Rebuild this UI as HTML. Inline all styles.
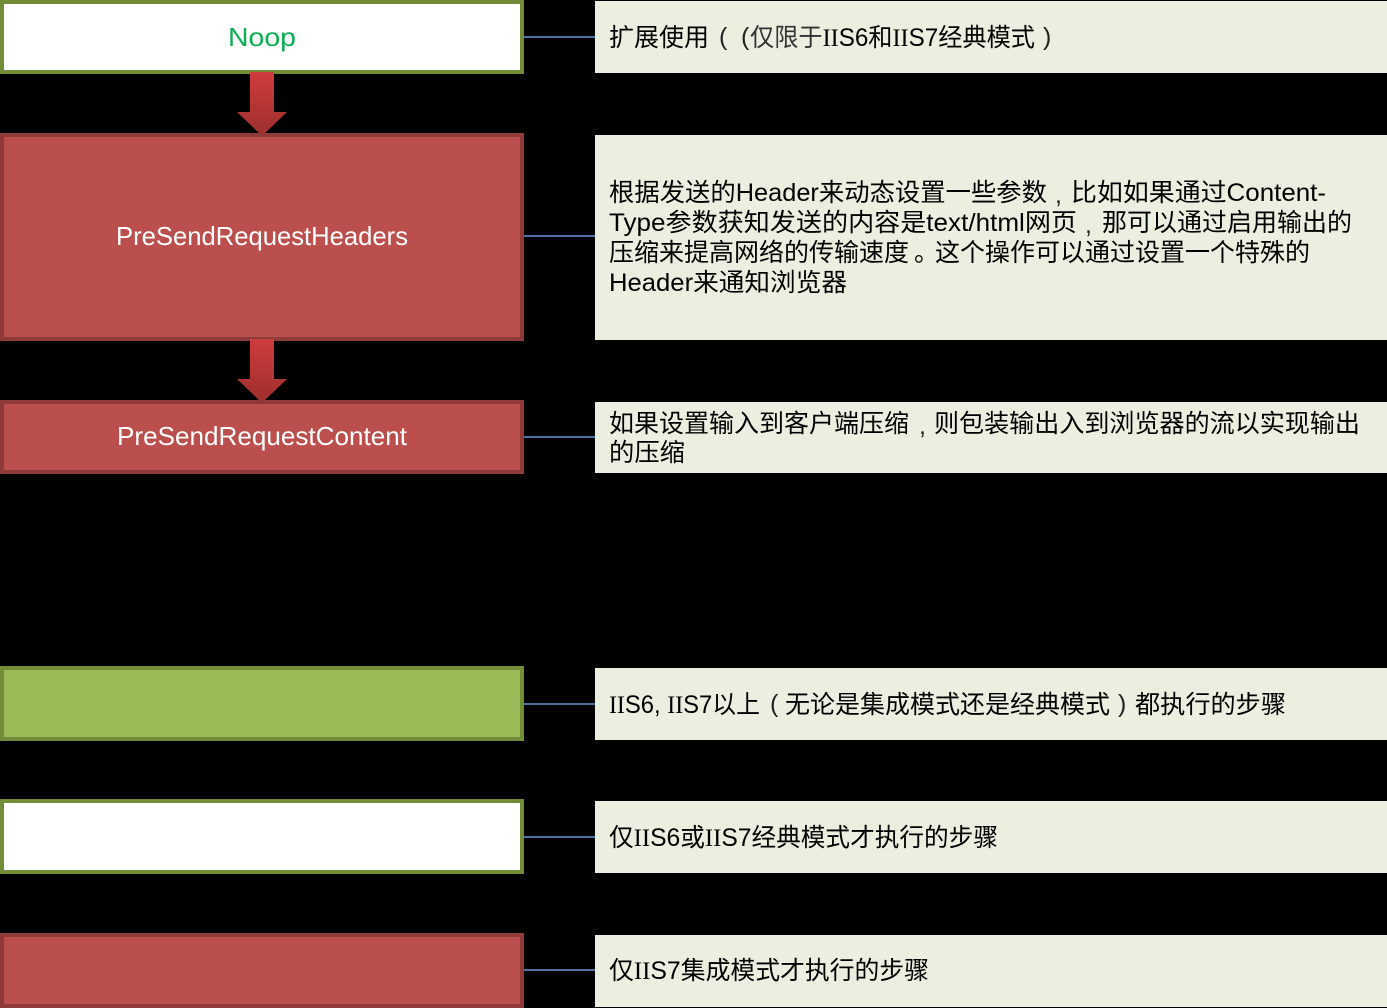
<!DOCTYPE html>
<html><head><meta charset="utf-8"><style>
html,body{margin:0;padding:0;background:#000;width:1387px;height:1008px;overflow:hidden}
svg{display:block}
text{font-family:"Liberation Sans","Noto Sans CJK SC",sans-serif;font-size:25px;fill:#000}
.c{fill:#fff;font-size:26px}
.s{font-family:"Liberation Serif",serif}
.p{font-size:25px;fill:#222}
</style></head><body>
<svg width="1387" height="1008" viewBox="0 0 1387 1008" xmlns="http://www.w3.org/2000/svg">
<defs><linearGradient id="g" x1="0" y1="0" x2="0" y2="1"><stop offset="0" stop-color="#cf3d3d"/><stop offset="1" stop-color="#9c2f2d"/></linearGradient></defs>
<rect width="1387" height="1008" fill="#000"/>
<g stroke="#4f6f9f" stroke-width="2">
<line x1="524" y1="37" x2="595" y2="37"/><line x1="524" y1="236" x2="595" y2="236"/><line x1="524" y1="437" x2="595" y2="437"/><line x1="524" y1="704" x2="595" y2="704"/><line x1="524" y1="837" x2="595" y2="837"/><line x1="524" y1="970" x2="595" y2="970"/>
</g>
<g fill="#ebefe0">
<rect x="595" y="1" width="792" height="72"/><rect x="595" y="135" width="792" height="205"/><rect x="595" y="402" width="792" height="71"/><rect x="595" y="668" width="792" height="72"/><rect x="595" y="801" width="792" height="72"/><rect x="595" y="935" width="792" height="72"/>
</g>
<g stroke-width="4">
<rect x="2" y="2" width="520" height="70" fill="#fff" stroke="#728c38"/>
<rect x="2" y="135" width="520" height="204" fill="#bb4f4d" stroke="#8d3a38"/>
<rect x="2" y="402" width="520" height="70" fill="#bb4f4d" stroke="#8d3a38"/>
<rect x="2" y="668" width="520" height="71" fill="#9bbb59" stroke="#728c38"/>
<rect x="2" y="801" width="520" height="71" fill="#fff" stroke="#728c38"/>
<rect x="2" y="935" width="520" height="71" fill="#bb4f4d" stroke="#8d3a38"/>
</g>
<polygon points="250,72 274,72 274,112 287,112 262,136 237,112 250,112" fill="url(#g)"/>
<polygon points="250,339 274,339 274,379 287,379 262,403 237,379 250,379" fill="url(#g)"/>
<text x="228" y="46" class="c" style="fill:#0fae55" textLength="68" lengthAdjust="spacingAndGlyphs">Noop</text>
<text x="116" y="245" class="c" textLength="292" lengthAdjust="spacingAndGlyphs">PreSendRequestHeaders</text>
<text x="117" y="445" class="c" textLength="290" lengthAdjust="spacingAndGlyphs">PreSendRequestContent</text>

<text x="609" y="46" textLength="100" lengthAdjust="spacingAndGlyphs">扩展使用</text>
<text x="719" y="45" class="p">(</text>
<text x="741" y="45" class="p">(</text>
<text x="750" y="46" textLength="285" lengthAdjust="spacingAndGlyphs"><tspan fill="#333">仅限于</tspan><tspan class="s">II</tspan>S6和<tspan class="s">II</tspan>S7经典模式</text>
<text x="1043" y="45" class="p">)</text>

<text x="609" y="201" textLength="438" lengthAdjust="spacingAndGlyphs">根据发送的Header来动态设置一些参数</text>
<text x="1055" y="203" class="p">,</text>
<text x="1071" y="201" textLength="255" lengthAdjust="spacingAndGlyphs">比如如果通过Content-</text>
<text x="609" y="231" textLength="468" lengthAdjust="spacingAndGlyphs">Type参数获知发送的内容是text/html网页</text>
<text x="1085" y="233" class="p">,</text>
<text x="1102" y="231" textLength="250" lengthAdjust="spacingAndGlyphs">那可以通过启用输出的</text>
<text x="609" y="261" textLength="300" lengthAdjust="spacingAndGlyphs">压缩来提高网络的传输速度</text>
<text x="914" y="261">。</text>
<text x="935" y="261" textLength="375" lengthAdjust="spacingAndGlyphs">这个操作可以通过设置一个特殊的</text>
<text x="609" y="291" textLength="238" lengthAdjust="spacingAndGlyphs">Header来通知浏览器</text>

<text x="609" y="432" textLength="300" lengthAdjust="spacingAndGlyphs">如果设置输入到客户端压缩</text>
<text x="919" y="434" class="p">,</text>
<text x="934" y="432" textLength="426" lengthAdjust="spacingAndGlyphs">则包装输出入到浏览器的流以实现输出</text>
<text x="609" y="461" textLength="76" lengthAdjust="spacingAndGlyphs">的压缩</text>

<text x="609" y="713" textLength="151" lengthAdjust="spacingAndGlyphs"><tspan class="s">II</tspan>S6, <tspan class="s">II</tspan>S7以上</text>
<text x="770" y="712" class="p">(</text>
<text x="785" y="713" textLength="325" lengthAdjust="spacingAndGlyphs">无论是集成模式还是经典模式</text>
<text x="1118" y="712" class="p">)</text>
<text x="1135" y="713" textLength="151" lengthAdjust="spacingAndGlyphs">都执行的步骤</text>

<text x="609" y="846" textLength="389" lengthAdjust="spacingAndGlyphs">仅<tspan class="s">II</tspan>S6或<tspan class="s">II</tspan>S7经典模式才执行的步骤</text>
<text x="609" y="979" textLength="320" lengthAdjust="spacingAndGlyphs">仅<tspan class="s">II</tspan>S7集成模式才执行的步骤</text>
</svg>
</body></html>
